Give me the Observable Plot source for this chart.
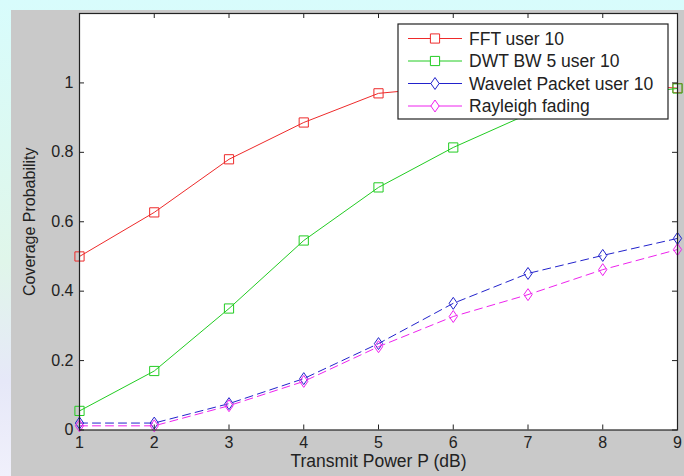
<!DOCTYPE html>
<html><head><meta charset="utf-8">
<script src="https://cdn.jsdelivr.net/npm/d3@7"></script>
<script src="https://cdn.jsdelivr.net/npm/@observablehq/plot@0.6"></script>
<style>
html,body{margin:0;padding:0;background:#fff;}
#wrap{position:relative;width:684px;height:476px;overflow:hidden;font-family:"Liberation Sans",Arial,sans-serif;}
#wm{position:absolute;left:0;top:0;width:684px;height:476px;
 background:linear-gradient(180deg,#d8fcfc 0%,#dcf9f2 30%,#e0f6ea 55%,#e6e8f8 80%,#f0f0fb 100%);}
#fig{position:absolute;left:11px;top:10px;width:673px;height:466px;background:#c9c9c9;}
#chart{position:absolute;left:0;top:0;}
</style></head>
<body><div id="wrap"><div id="wm"></div><div id="fig"></div><div id="chart"></div></div>
<script>
// ---- data ----
const powerDB = [1, 2, 3, 4, 5, 6, 7, 8, 9];
const fftUser10 = [0.50, 0.627, 0.78, 0.886, 0.97, 0.99, 0.995, 0.997, 0.985];
const dwtBW5User10 = [0.055, 0.17, 0.35, 0.546, 0.699, 0.814, 0.91, 0.96, 0.984];
const waveletPacketUser10 = [0.02, 0.02, 0.076, 0.148, 0.249, 0.365, 0.451, 0.503, 0.552];
const rayleighFading = [0.012, 0.012, 0.07, 0.14, 0.24, 0.327, 0.39, 0.462, 0.52];
const seriesNames = ["FFT user 10", "DWT BW 5 user 10", "Wavelet Packet user 10", "Rayleigh fading"];
const xTicks = [1, 2, 3, 4, 5, 6, 7, 8, 9];
const yTicks = [0, 0.2, 0.4, 0.6, 0.8, 1];
const yTickLabels = ["0", "0.2", "0.4", "0.6", "0.8", "1"];
const xLabel = "Transmit Power P (dB)";
const yLabel = "Coverage Probability";

// ---- build table ----
const seriesValues = [fftUser10, dwtBW5User10, waveletPacketUser10, rayleighFading];
const rows = seriesNames.flatMap((s, k) => powerDB.map((p, i) => ({series: s, x: p, y: seriesValues[k][i]})));

const squareSym = {draw(ctx, size) { const r = Math.sqrt(size / Math.PI); ctx.rect(-r, -r, 2 * r, 2 * r); }};
const diamondSym = {draw(ctx, size) { const r = Math.sqrt(size / Math.PI); const w = r * 0.9, h = r * 1.3;
  ctx.moveTo(0, -h); ctx.lineTo(w, 0); ctx.lineTo(0, h); ctx.lineTo(-w, 0); ctx.closePath(); }};
const styles = [
  {color: "#ee2a2a", dash: null, sym: squareSym},
  {color: "#22cc22", dash: null, sym: squareSym},
  {color: "#2222cc", dash: "8,5", sym: diamondSym},
  {color: "#ee22ee", dash: "8,5", sym: diamondSym}
];

const W = 684, H = 476, mL = 79, mR = 7, mT = 13, mB = 46.5;
const plotW = W - mL - mR, plotH = H - mT - mB;
const font = "Liberation Sans, Arial, sans-serif";

const seriesMarks = seriesNames.flatMap((s, k) => {
  const d = rows.filter(r => r.series === s);
  return [
    Plot.line(d, {x: "x", y: "y", stroke: styles[k].color, strokeWidth: 1, strokeDasharray: styles[k].dash}),
    Plot.dot(d, {x: "x", y: "y", symbol: styles[k].sym, r: 4.6, stroke: styles[k].color, fill: "none", strokeWidth: 1})
  ];
});

const chart = Plot.plot({
  width: W, height: H, marginLeft: mL, marginRight: mR, marginTop: mT, marginBottom: mB,
  style: {background: "transparent", fontFamily: font, overflow: "visible"},
  x: {domain: [1, 9]},
  y: {domain: [0, 1.2]},
  marks: [
    Plot.frame({fill: "white", stroke: null}),
    ...seriesMarks,
    Plot.tickX(xTicks, {x: d => d, insetTop: plotH - 5, stroke: "#222"}),
    Plot.tickX(xTicks, {x: d => d, insetBottom: plotH - 5, stroke: "#222"}),
    Plot.tickY(yTicks, {y: d => d, insetRight: plotW - 5, stroke: "#222"}),
    Plot.tickY(yTicks, {y: d => d, insetLeft: plotW - 5, stroke: "#222"}),
    Plot.frame({stroke: "#222", strokeWidth: 1.2}),
    Plot.axisX({ticks: xTicks, tickSize: 0, tickPadding: 7, fontSize: 16, fill: "#222", label: null}),
    Plot.axisY({ticks: yTicks, tickFormat: d => yTickLabels[yTicks.indexOf(d)], tickSize: 0, tickPadding: 6, fontSize: 16, fill: "#222", label: null}),
    Plot.text([xLabel], {frameAnchor: "bottom", textAnchor: "middle", dy: 37, fontSize: 17.5, fill: "#222", text: d => d}),
    Plot.text([yLabel], {frameAnchor: "left", textAnchor: "middle", dx: -50, rotate: -90, fontSize: 16, fill: "#222", text: d => d})
  ]
});

// ---- legend ----
const svg = d3.select(chart);
const lg = svg.append("g").attr("font-family", font).attr("font-size", 17.5).attr("text-anchor", "start");
const bx = 398, by = 24, bw = 270, bh = 95;
lg.append("rect").attr("x", bx).attr("y", by).attr("width", bw).attr("height", bh)
  .attr("fill", "white").attr("stroke", "#222").attr("stroke-width", 1.2);
seriesNames.forEach((s, k) => {
  const cy = by + 14.5 + k * 22.5;
  const st = styles[k];
  lg.append("line").attr("x1", bx + 10).attr("x2", bx + 64).attr("y1", cy).attr("y2", cy)
    .attr("stroke", st.color).attr("stroke-width", 1);
  const p = d3.path(); st.sym.draw(p, Math.PI * 4.6 * 4.6);
  lg.append("path").attr("d", p.toString()).attr("transform", `translate(${bx + 37},${cy})`)
    .attr("fill", "white").attr("stroke", st.color);
  lg.append("text").attr("x", bx + 71).attr("y", cy).attr("dy", "0.35em").attr("fill", "#222")
    .attr("text-anchor", "start").text(s);
});

document.getElementById("chart").appendChild(chart);
</script>
</body></html>
